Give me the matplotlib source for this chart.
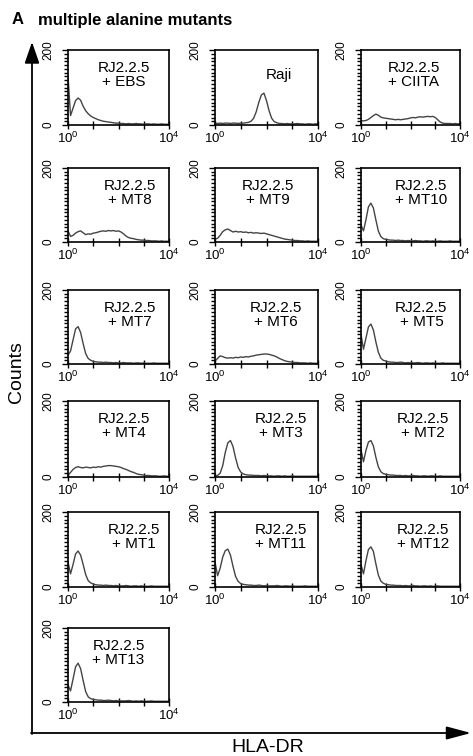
import matplotlib
matplotlib.use("Agg")
import matplotlib.pyplot as plt
import numpy as np
from matplotlib.ticker import MultipleLocator, LogLocator, NullFormatter

plt.rcParams['font.family'] = ['Liberation Sans', 'DejaVu Sans']
plt.rcParams['mathtext.default'] = 'regular'

W, H = 473, 756

# channel centres, log10 of HLA-DR fluorescence
log_fl = np.round(np.arange(0, 4.01, 0.1), 1)

labels = ["RJ2.2.5\n+ EBS", "Raji", "RJ2.2.5\n+ CIITA",
          "RJ2.2.5\n+ MT8", "RJ2.2.5\n+ MT9", "RJ2.2.5\n+ MT10",
          "RJ2.2.5\n+ MT7", "RJ2.2.5\n+ MT6", "RJ2.2.5\n+ MT5",
          "RJ2.2.5\n+ MT4", "RJ2.2.5\n+ MT3", "RJ2.2.5\n+ MT2",
          "RJ2.2.5\n+ MT1", "RJ2.2.5\n+ MT11", "RJ2.2.5\n+ MT12",
          "RJ2.2.5\n+ MT13"]

ebs = [130, 25, 45, 65, 72, 66, 50, 38, 30, 24, 20, 17, 14, 12, 10, 9, 8, 7, 6, 5, 5,
       4, 4, 3, 4, 3, 3, 4, 3, 3, 2, 3, 3, 2, 3, 2, 2, 3, 2, 2, 2]
raji = [5, 4, 5, 4, 5, 5, 4, 5, 5, 4, 5, 5, 6, 7, 10, 18, 35, 60, 80, 85, 65,
        38, 18, 9, 6, 4, 4, 3, 4, 3, 3, 3, 4, 3, 3, 2, 3, 3, 2, 3, 3]
ciita = [12, 11, 12, 15, 20, 25, 29, 26, 21, 19, 18, 17, 16, 15, 14, 15, 14, 15, 16, 17, 19,
         20, 19, 21, 22, 21, 22, 23, 22, 23, 20, 14, 8, 5, 4, 4, 4, 3, 4, 3, 3]
mt8 = [30, 15, 18, 24, 28, 30, 25, 20, 22, 21, 24, 25, 27, 29, 30, 29, 31, 30, 31, 29, 30,
       27, 22, 16, 12, 10, 9, 7, 6, 5, 5, 4, 4, 3, 3, 3, 2, 3, 2, 2, 2]
mt9 = [8, 10, 18, 28, 33, 35, 31, 27, 29, 27, 28, 26, 27, 25, 26, 24, 25, 24, 23, 24, 22,
       20, 18, 16, 14, 12, 10, 8, 7, 6, 5, 4, 4, 3, 3, 2, 3, 2, 2, 2, 2]
mt10 = [46, 30, 60, 95, 105, 92, 60, 30, 15, 9, 7, 6, 5, 5, 4, 5, 4, 4, 3, 4, 3,
        3, 4, 3, 3, 2, 3, 3, 2, 3, 2, 2, 3, 2, 2, 2, 3, 2, 2, 2, 2]
mt7 = [24, 35, 65, 95, 101, 85, 55, 28, 15, 10, 7, 6, 5, 5, 4, 5, 4, 4, 3, 4, 3,
       3, 4, 3, 3, 3, 2, 3, 3, 2, 3, 2, 2, 2, 3, 2, 2, 2, 2, 2, 2]
mt6 = [8, 15, 22, 20, 17, 16, 17, 16, 18, 17, 19, 18, 20, 19, 21, 22, 24, 25, 26, 27, 27,
       26, 24, 22, 19, 15, 12, 9, 7, 6, 5, 4, 4, 3, 3, 3, 2, 3, 2, 2, 2]
mt5 = [80, 40, 70, 100, 108, 92, 60, 32, 16, 10, 8, 6, 5, 5, 4, 4, 5, 4, 3, 4, 3,
       3, 3, 4, 3, 2, 3, 3, 2, 3, 2, 2, 2, 3, 2, 2, 2, 2, 2, 2, 2]
mt4 = [5, 12, 20, 25, 27, 25, 24, 26, 25, 24, 26, 25, 27, 26, 28, 29, 30, 30, 29, 28, 27,
       25, 22, 20, 17, 14, 12, 9, 7, 6, 5, 4, 4, 3, 3, 3, 2, 2, 3, 2, 2]
mt3 = [2, 4, 10, 30, 65, 90, 96, 80, 50, 25, 13, 8, 6, 5, 5, 4, 4, 4, 3, 4, 3,
       3, 3, 2, 3, 3, 2, 3, 2, 2, 3, 2, 2, 2, 2, 2, 2, 2, 2, 2, 2]
mt2 = [72, 40, 70, 92, 96, 82, 52, 27, 14, 9, 7, 6, 5, 5, 4, 4, 4, 3, 4, 3, 3,
       4, 3, 3, 2, 3, 3, 2, 3, 3, 2, 2, 3, 2, 2, 2, 2, 2, 2, 2, 2]
mt1 = [67, 35, 60, 88, 96, 85, 60, 33, 17, 11, 8, 6, 5, 5, 4, 5, 4, 4, 3, 4, 3,
       3, 3, 4, 3, 2, 3, 3, 2, 3, 2, 2, 2, 3, 2, 2, 2, 2, 2, 2, 2]
mt11 = [67, 30, 50, 80, 97, 101, 85, 55, 28, 15, 9, 7, 6, 5, 5, 4, 4, 5, 4, 3, 4,
        3, 3, 3, 4, 3, 2, 3, 3, 2, 3, 2, 2, 2, 2, 3, 2, 2, 2, 2, 2]
mt12 = [60, 35, 70, 100, 107, 95, 62, 32, 16, 10, 7, 6, 5, 5, 4, 4, 4, 3, 4, 3, 3,
        4, 3, 3, 2, 3, 3, 2, 3, 2, 2, 3, 2, 2, 2, 2, 2, 2, 2, 2, 2]
mt13 = [46, 30, 62, 95, 105, 90, 58, 28, 14, 9, 7, 6, 5, 5, 4, 4, 5, 4, 3, 4, 3,
        3, 3, 3, 4, 3, 2, 3, 2, 3, 2, 2, 2, 3, 2, 2, 2, 2, 2, 2, 2]

counts = [ebs, raji, ciita, mt8, mt9, mt10, mt7, mt6, mt5,
          mt4, mt3, mt2, mt1, mt11, mt12, mt13]

# label centre (fraction of panel width)
label_x = [0.55, 0.62, 0.53, 0.61, 0.51, 0.61, 0.61, 0.59, 0.61,
           0.55, 0.64, 0.63, 0.65, 0.64, 0.63, 0.50]

# panel boxes in pixels
cols = [(68, 169), (215, 318), (361, 460)]
rows = [(50, 125), (168, 242), (290, 364), (401, 477), (512, 587), (628, 702)]

fig = plt.figure(figsize=(W / 100, H / 100), dpi=100)

# big outer axes with arrows
ax0 = fig.add_axes([0, 0, 1, 1])
ax0.set_xlim(0, W)
ax0.set_ylim(H, 0)
ax0.axis("off")
ax0.annotate("", xy=(32, 42), xytext=(32, 734),
             arrowprops=dict(arrowstyle="-|>,head_length=1.3,head_width=0.45",
                             lw=1.3, color="black", shrinkA=0, shrinkB=0))
ax0.annotate("", xy=(471, 733), xytext=(31, 733),
             arrowprops=dict(arrowstyle="-|>,head_length=1.5,head_width=0.4",
                             lw=1.3, color="black", shrinkA=0, shrinkB=0))
ax0.text(16, 372, "Counts", rotation=90, ha="center", va="center", fontsize=14)
ax0.text(268, 747, "HLA-DR", ha="center", va="center", fontsize=14)
ax0.text(12, 20, "A", ha="left", va="center", fontsize=12, fontweight="bold")
ax0.text(38, 20, "multiple alanine mutants", ha="left", va="center",
         fontsize=12, fontweight="bold")

for i, (lab, y) in enumerate(zip(labels, counts)):
    r, c = divmod(i, 3)
    x0, x1 = cols[c]
    y0, y1 = rows[r]
    ax = fig.add_axes([x0 / W, 1 - y1 / H, (x1 - x0) / W, (y1 - y0) / H])
    ax.plot(10 ** log_fl, y, color="#444444", lw=1.0)
    ax.set_xscale("log")
    ax.set_xlim(1, 1e4)
    ax.set_ylim(0, 200)
    ax.set_xticks([1, 10, 100, 1000, 1e4])
    ax.set_xticklabels([r"$10^0$", "", "", "", r"$10^4$"], fontsize=9.5)
    ax.xaxis.set_minor_locator(LogLocator(base=10, subs=np.arange(2, 10)))
    ax.xaxis.set_minor_formatter(NullFormatter())
    ax.set_yticks([0, 200])
    ax.set_yticklabels(["0", "200"], rotation=90, va="center", fontsize=8.5)
    ax.yaxis.set_minor_locator(MultipleLocator(10))
    ax.tick_params(axis="x", which="major", direction="inout", length=6, width=1.0, pad=1)
    ax.tick_params(axis="x", which="minor", direction="in", length=3.5, width=1.3)
    ax.tick_params(axis="y", which="major", direction="out", length=4, width=1.0, pad=6)
    ax.tick_params(axis="y", which="minor", direction="out", length=3, width=1.0)
    for s in ax.spines.values():
        s.set_linewidth(1.2)
    ax.text(label_x[i], 0.665, lab, transform=ax.transAxes, ha="center",
            va="center", fontsize=11, linespacing=1.0)

fig.savefig("out.png", dpi=100)
